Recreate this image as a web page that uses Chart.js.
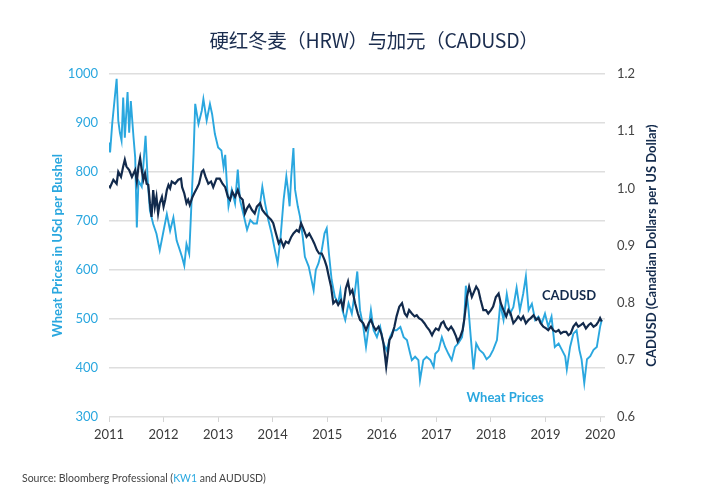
<!DOCTYPE html>
<html>
<head>
<meta charset="utf-8">
<script src="https://cdn.jsdelivr.net/npm/chart.js@4.4.1/dist/chart.umd.min.js"></script>
<style>
  html, body { margin: 0; padding: 0; background: #fff; }
  #wrap { position: relative; width: 720px; height: 500px; }
  #title {
    position: absolute; left: 14px; top: 25px; width: 720px; text-align: center;
    font-family: "Noto Sans CJK SC", "Noto Sans", sans-serif; font-size: 19.5px;
    line-height: 30px; color: #1b2d4f; letter-spacing: -0.3px;
  }
  #source {
    position: absolute; left: 22px; top: 472px;
    font-family: Lato, "Noto Sans", sans-serif; font-size: 10.5px; color: #444;
  }
  #source span { color: #29a8e0; }
</style>
</head>
<body>
<div id="wrap">
  <canvas id="chart" width="720" height="500"></canvas>
  <div id="title">硬红冬麦（HRW）与加元（CADUSD）</div>
  <div id="source">Source: Bloomberg Professional (<span>KW1</span> and AUDUSD)</div>
</div>
<script>
const WHEAT_COLOR = "#2aa7df";
const CAD_COLOR = "#122a4c";

const yearTicks = [2011, 2012, 2013, 2014, 2015, 2016, 2017, 2018, 2019, 2020];

// wheat (KW1), USd per bushel
const wheatYears = [
  2011.00, 2011.02, 2011.06, 2011.10, 2011.14, 2011.17, 2011.20, 2011.23, 2011.26, 2011.29,
  2011.34, 2011.37, 2011.40, 2011.45, 2011.48, 2011.51, 2011.54, 2011.60, 2011.67, 2011.71,
  2011.75, 2011.81, 2011.87, 2011.93, 2012.00, 2012.06, 2012.12, 2012.18, 2012.24, 2012.30,
  2012.34, 2012.38, 2012.42, 2012.47, 2012.50, 2012.55, 2012.58, 2012.64, 2012.70, 2012.73,
  2012.79, 2012.85, 2012.89, 2012.94, 2013.00, 2013.06, 2013.10, 2013.13, 2013.16, 2013.19,
  2013.25, 2013.31, 2013.36, 2013.40, 2013.46, 2013.53, 2013.59, 2013.65, 2013.71, 2013.77,
  2013.81, 2013.86, 2013.92, 2013.98, 2014.04, 2014.09, 2014.14, 2014.20, 2014.25, 2014.28,
  2014.31, 2014.34, 2014.38, 2014.41, 2014.46, 2014.50, 2014.55, 2014.59, 2014.66, 2014.70,
  2014.75, 2014.79, 2014.84, 2014.90, 2014.95, 2014.99, 2015.03, 2015.08, 2015.14, 2015.20,
  2015.24, 2015.28, 2015.33, 2015.39, 2015.45, 2015.51, 2015.55, 2015.60, 2015.66, 2015.71,
  2015.76, 2015.80, 2015.85, 2015.91, 2015.97, 2016.03, 2016.09, 2016.15, 2016.21, 2016.27,
  2016.34, 2016.40, 2016.46, 2016.52, 2016.55, 2016.61, 2016.67, 2016.70, 2016.76, 2016.82,
  2016.89, 2016.95, 2016.98, 2017.04, 2017.10, 2017.16, 2017.22, 2017.28, 2017.34, 2017.40,
  2017.47, 2017.51, 2017.54, 2017.59, 2017.63, 2017.68, 2017.73, 2017.79, 2017.86, 2017.92,
  2017.98, 2018.04, 2018.11, 2018.17, 2018.23, 2018.29, 2018.35, 2018.41, 2018.47, 2018.53,
  2018.59, 2018.64, 2018.69, 2018.75, 2018.81, 2018.87, 2018.93, 2018.99, 2019.05, 2019.11,
  2019.17, 2019.24, 2019.30, 2019.36, 2019.39, 2019.45, 2019.51, 2019.57, 2019.62, 2019.66,
  2019.71, 2019.76, 2019.82, 2019.88, 2019.94, 2020.00, 2020.03
];
const wheatPrices = [
  860, 840, 900, 945, 990, 905, 880, 864, 952, 870,
  963, 880, 945, 870, 830, 687, 782, 770, 874, 782,
  721, 694, 674, 640, 680, 714, 680, 707, 660, 640,
  626, 609, 653, 633, 707, 837, 939, 898, 925, 949,
  905, 939, 918, 878, 850, 844, 810, 835, 776, 730,
  764, 736, 805, 743, 716, 682, 702, 695, 695, 736,
  770, 736, 702, 675, 641, 614, 661, 743, 791, 764,
  730, 791, 849, 764, 730, 709, 668, 627, 607, 586,
  559, 600, 614, 641, 675, 685, 634, 580, 545, 532,
  558, 517, 498, 532, 511, 559, 597, 518, 484, 443,
  484, 518, 477, 463, 484, 450, 436, 463, 477, 477,
  484, 463, 457, 429, 416, 423, 416, 375, 416, 423,
  416, 402, 429, 436, 463, 443, 429, 416, 443, 450,
  463, 500, 568, 518, 463, 397, 450, 437, 430, 418,
  424, 437, 457, 531, 498, 551, 511, 524, 564, 518,
  551, 587, 518, 531, 498, 505, 491, 511, 484, 505,
  443, 450, 437, 424, 397, 443, 470, 477, 437, 418,
  369, 418, 424, 437, 443, 484, 498
];

// CADUSD
const cadYears = [
  2011.00, 2011.02, 2011.08, 2011.14, 2011.17, 2011.22, 2011.26, 2011.29, 2011.32, 2011.37,
  2011.42, 2011.48, 2011.51, 2011.54, 2011.57, 2011.60, 2011.63, 2011.66, 2011.69, 2011.72,
  2011.75, 2011.78, 2011.81, 2011.84, 2011.87, 2011.90, 2011.93, 2011.97, 2012.00, 2012.03,
  2012.06, 2012.09, 2012.12, 2012.15, 2012.21, 2012.27, 2012.32, 2012.34, 2012.38, 2012.42,
  2012.45, 2012.48, 2012.53, 2012.56, 2012.61, 2012.65, 2012.70, 2012.73, 2012.77, 2012.82,
  2012.87, 2012.91, 2012.97, 2013.03, 2013.08, 2013.13, 2013.18, 2013.22, 2013.26, 2013.31,
  2013.36, 2013.40, 2013.45, 2013.49, 2013.53, 2013.57, 2013.62, 2013.67, 2013.71, 2013.77,
  2013.81, 2013.86, 2013.92, 2013.97, 2014.01, 2014.06, 2014.11, 2014.15, 2014.20, 2014.24,
  2014.29, 2014.34, 2014.38, 2014.44, 2014.48, 2014.52, 2014.56, 2014.62, 2014.67, 2014.72,
  2014.76, 2014.81, 2014.85, 2014.90, 2014.95, 2014.99, 2015.03, 2015.07, 2015.11, 2015.16,
  2015.20, 2015.25, 2015.29, 2015.34, 2015.38, 2015.42, 2015.46, 2015.51, 2015.56, 2015.60,
  2015.66, 2015.71, 2015.76, 2015.80, 2015.85, 2015.89, 2015.94, 2015.99, 2016.03, 2016.06,
  2016.08, 2016.11, 2016.14, 2016.18, 2016.23, 2016.27, 2016.32, 2016.37, 2016.42, 2016.46,
  2016.50, 2016.55, 2016.60, 2016.64, 2016.68, 2016.73, 2016.78, 2016.82, 2016.87, 2016.92,
  2016.95, 2016.99, 2017.04, 2017.09, 2017.13, 2017.17, 2017.22, 2017.27, 2017.31, 2017.36,
  2017.39, 2017.44, 2017.48, 2017.51, 2017.56, 2017.60, 2017.65, 2017.73, 2017.77, 2017.81,
  2017.86, 2017.91, 2017.95, 2018.00, 2018.04, 2018.09, 2018.14, 2018.18, 2018.23, 2018.28,
  2018.32, 2018.36, 2018.41, 2018.46, 2018.50, 2018.55, 2018.59, 2018.64, 2018.69, 2018.73,
  2018.78, 2018.83, 2018.87, 2018.91, 2018.96, 2019.01, 2019.05, 2019.10, 2019.14, 2019.19,
  2019.24, 2019.28, 2019.33, 2019.38, 2019.42, 2019.46, 2019.51, 2019.56, 2019.60, 2019.65,
  2019.69, 2019.74, 2019.79, 2019.83, 2019.88, 2019.93, 2019.97, 2020.00, 2020.03
];
const cadRates = [
  1.005, 1.002, 1.015, 1.008, 1.029, 1.020, 1.038, 1.050, 1.038, 1.032,
  1.020, 1.032, 1.012, 1.038, 1.053, 1.032, 1.015, 1.026, 1.008, 1.006,
  0.974, 0.950, 0.997, 0.968, 0.985, 0.956, 0.974, 0.985, 0.968, 0.980,
  0.997, 1.006, 1.000, 1.012, 1.008, 1.015, 1.017, 1.002, 0.991, 0.974,
  0.980, 0.971, 0.985, 0.991, 1.000, 1.008, 1.029, 1.032, 1.020, 1.008,
  1.012, 1.002, 1.017, 1.017, 1.008, 1.002, 0.985, 0.980, 0.994, 0.985,
  0.997, 0.985, 0.980, 0.956, 0.965, 0.971, 0.962, 0.956, 0.968, 0.974,
  0.962, 0.956, 0.950, 0.945, 0.939, 0.921, 0.904, 0.910, 0.898, 0.907,
  0.904, 0.915, 0.921, 0.927, 0.924, 0.939, 0.930, 0.915, 0.921, 0.912,
  0.904, 0.892, 0.886, 0.886, 0.875, 0.863, 0.845, 0.828, 0.799, 0.804,
  0.796, 0.804, 0.790, 0.825, 0.837, 0.816, 0.822, 0.799, 0.781, 0.770,
  0.764, 0.752, 0.764, 0.770, 0.758, 0.752, 0.758, 0.746, 0.729, 0.705,
  0.688, 0.711, 0.735, 0.741, 0.758, 0.776, 0.793, 0.799, 0.781, 0.776,
  0.787, 0.781, 0.776, 0.778, 0.773, 0.770, 0.764, 0.758, 0.752, 0.743,
  0.749, 0.755, 0.752, 0.764, 0.767, 0.758, 0.752, 0.758, 0.752, 0.741,
  0.732, 0.741, 0.752, 0.770, 0.810, 0.828, 0.810, 0.828, 0.822, 0.805,
  0.787, 0.787, 0.781, 0.787, 0.793, 0.810, 0.816, 0.799, 0.787, 0.776,
  0.787, 0.781, 0.764, 0.770, 0.776, 0.770, 0.776, 0.764, 0.770, 0.773,
  0.778, 0.770, 0.773, 0.764, 0.758, 0.755, 0.752, 0.758, 0.752, 0.749,
  0.752, 0.746, 0.749, 0.749, 0.743, 0.746, 0.758, 0.764, 0.758, 0.761,
  0.764, 0.755, 0.761, 0.764, 0.758, 0.761, 0.767, 0.773, 0.767
];

const wheatPoints = wheatYears.map((x, i) => ({ x, y: wheatPrices[i] }));
const cadPoints = cadYears.map((x, i) => ({ x, y: cadRates[i] }));

// in-chart labels + right axis title (reads bottom-to-top like the original)
const extrasPlugin = {
  id: "extras",
  afterDraw(chart) {
    const { ctx, scales } = chart;
    const x = scales.x, yL = scales.yL, yR = scales.yR;
    ctx.save();
    ctx.font = "bold 13px Lato, 'Noto Sans', sans-serif";
    ctx.textAlign = "center";
    ctx.textBaseline = "middle";
    ctx.fillStyle = CAD_COLOR;
    ctx.fillText("CADUSD", x.getPixelForValue(2019.43), yR.getPixelForValue(0.812));
    ctx.fillStyle = WHEAT_COLOR;
    ctx.fillText("Wheat Prices", x.getPixelForValue(2018.26), yL.getPixelForValue(339));

    ctx.translate(652, (chart.chartArea.top + chart.chartArea.bottom) / 2);
    ctx.rotate(-Math.PI / 2);
    ctx.fillStyle = CAD_COLOR;
    ctx.fillText("CADUSD (Canadian Dollars per US Dollar)", 0, 0);
    ctx.restore();
  },
};

new Chart(document.getElementById("chart"), {
  type: "line",
  data: {
    datasets: [
      {
        label: "CADUSD",
        data: cadPoints,
        yAxisID: "yR",
        borderColor: CAD_COLOR,
        borderWidth: 2.2,
        pointRadius: 0,
        tension: 0,
      },
      {
        label: "Wheat Prices",
        data: wheatPoints,
        yAxisID: "yL",
        borderColor: WHEAT_COLOR,
        borderWidth: 1.9,
        pointRadius: 0,
        tension: 0,
      },
    ],
  },
  options: {
    responsive: false,
    animation: false,
    layout: { padding: { left: 0, right: 0, top: 74, bottom: 53 } },
    plugins: {
      legend: { display: false },
      tooltip: { enabled: false },
    },
    scales: {
      x: {
        type: "linear",
        min: 2011,
        max: 2020.09,
        afterBuildTicks: (s) => { s.ticks = yearTicks.map((v) => ({ value: v })); },
        afterFit: (s) => { s.height = 30; },
        ticks: {
          color: "#3a3a3a",
          font: { family: "Lato", size: 13 },
          padding: 5,
          maxRotation: 0,
          callback: (v) => String(v),
        },
        grid: { drawOnChartArea: false, tickLength: 5, color: "#d4d4d4" },
        border: { display: false },
      },
      yL: {
        type: "linear",
        position: "left",
        min: 300,
        max: 1000,
        afterFit: (s) => { s.width = 109; },
        ticks: {
          stepSize: 100,
          color: WHEAT_COLOR,
          font: { family: "Lato", size: 13 },
          padding: 11,
          callback: (v) => String(v),
        },
        grid: { color: "#dedede", lineWidth: 1.5, drawTicks: false },
        border: { display: false },
        title: {
          display: true,
          text: "Wheat Prices in USd per Bushel",
          color: WHEAT_COLOR,
          font: { family: "Lato", size: 13, weight: "bold" },
          padding: { top: 50, bottom: 0 },
        },
      },
      yR: {
        type: "linear",
        position: "right",
        min: 0.6,
        max: 1.2,
        afterFit: (s) => { s.width = 115; },
        ticks: {
          stepSize: 0.1,
          color: "#444",
          font: { family: "Lato", size: 13 },
          padding: 12,
        },
        grid: { drawOnChartArea: false, drawTicks: false },
        border: { display: false },
      },
    },
  },
  plugins: [extrasPlugin],
});
</script>
</body>
</html>
